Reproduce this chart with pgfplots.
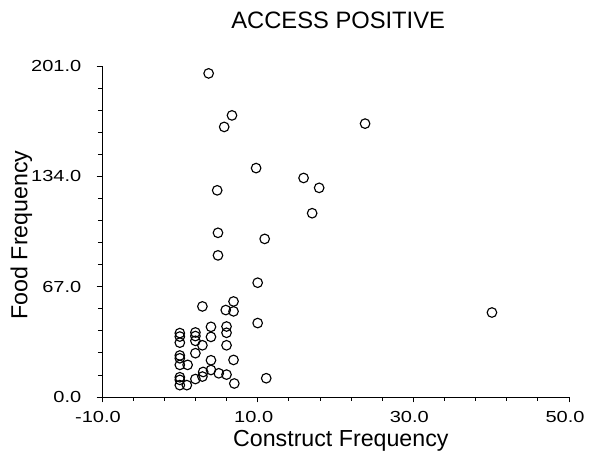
\documentclass[border=0pt]{standalone}
\usepackage{pgfplots}
\pgfplotsset{compat=1.18}
\usepackage{fontspec}
\setmainfont{Liberation Sans}
\newfontfamily\tickfont[FakeStretch=1.25]{Liberation Sans}

% Food vs. construct frequency for the access-positive group
\pgfplotstableread{
x y
3.7 196.5
6.7 171.0
5.7 164.0
23.8 166.0
9.8 139.0
15.9 133.0
17.9 127.0
4.8 125.5
17.0 111.6
4.9 99.7
10.9 96.0
4.9 86.0
10.0 69.4
6.9 58.0
2.9 55.0
5.9 52.8
6.9 52.0
40.1 51.3
10.0 44.9
4.0 42.6
6.0 42.8
0.0 38.8
2.0 39.2
6.0 39.0
0.0 36.7
2.0 37.0
4.0 36.5
2.0 34.1
0.0 33.0
2.9 31.4
6.0 31.4
2.0 26.6
0.0 25.2
0.0 23.5
4.0 22.3
6.9 22.5
0.0 19.5
1.0 19.5
4.0 16.4
3.0 15.2
5.0 14.4
6.0 13.6
2.9 12.4
0.0 12.0
11.1 11.4
2.0 10.9
0.0 10.4
7.0 8.2
0.0 7.2
0.9 7.2
}\datatable

\begin{document}
\begin{tikzpicture}
\path (-76.5pt,-46.5pt) rectangle (365.25pt,297.75pt);
\begin{axis}[
  at={(0,0)}, anchor=south west,
  scale only axis,
  width=350.25pt, height=248.25pt,
  clip=false,
  xmin=-10, xmax=50, ymin=0, ymax=201,
  axis x line*=bottom, axis y line*=left,
  axis line style={line width=0.6pt, -},
  xtick={-10,10,30,50}, ytick={0,67,134,201},
  minor tick num=4,
  tick align=outside,
  major tick length=4pt, minor tick length=3pt,
  tick style={line width=0.6pt, black},
  /pgf/number format/assume math mode=true,
  /pgf/number format/.cd, fixed, fixed zerofill, precision=1, /pgfplots/.cd,
  tick label style={font=\tickfont\fontsize{12}{13}\selectfont},
  xticklabel style={xshift=-3pt, yshift=-3.5pt},
  yticklabel style={xshift=-8pt},
  title={ACCESS POSITIVE},
  title style={at={(0.5,1)}, anchor=base, yshift=22pt, xshift=2pt,
    font=\fontsize{17.8}{19}\selectfont},
  xlabel={Construct Frequency},
  ylabel={Food Frequency},
  label style={font=\fontsize{17.4}{19}\selectfont},
  xlabel style={at={(0.5,0)}, anchor=base, yshift=-37.5pt, xshift=4pt},
  ylabel style={at={(0,0.5)}, anchor=base, yshift=56pt, xshift=-2.6pt},
]
\addplot[only marks, mark=o, mark size=3.6pt, mark options={line width=0.85pt, black}]
  table[x=x, y=y] {\datatable};
\end{axis}
\end{tikzpicture}
\end{document}
